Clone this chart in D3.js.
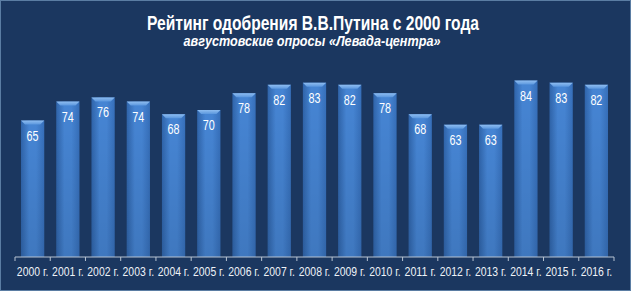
<!DOCTYPE html>
<html>
<head>
<meta charset="utf-8">
<script src="https://cdn.jsdelivr.net/npm/d3@7"></script>
<style>
  html, body { margin: 0; padding: 0; background: #1b3760; }
  svg { display: block; }
</style>
</head>
<body>
<div id="chart"></div>
<script>
// Chart data
const years = ["2000 г.", "2001 г.", "2002 г.", "2003 г.", "2004 г.", "2005 г.", "2006 г.", "2007 г.", "2008 г.",
               "2009 г.", "2010 г.", "2011 г.", "2012 г.", "2013 г.", "2014 г.", "2015 г.", "2016 г."];
const ratings = [65, 74, 76, 74, 68, 70, 78, 82, 83, 82, 78, 68, 63, 63, 84, 83, 82];
const titleText = "Рейтинг одобрения В.В.Путина с 2000 года";
const subtitleText = "августовские опросы «Левада-центра»";

const width = 631;
const height = 291;
const font = "'Liberation Sans', Arial, sans-serif";

const svg = d3.select('#chart').append('svg')
    .attr('width', width)
    .attr('height', height);

// Background and thin border
svg.append('rect')
    .attr('x', 0.5).attr('y', 0.5)
    .attr('width', width - 1).attr('height', height - 1)
    .attr('fill', '#1b3760')
    .attr('stroke', '#5b7da3')
    .attr('stroke-width', 1);

// Gradients for bars
const defs = svg.append('defs');
const barGrad = defs.append('linearGradient')
    .attr('id', 'barGrad')
    .attr('x1', 0).attr('x2', 1).attr('y1', 0).attr('y2', 0);
barGrad.append('stop').attr('offset', '0%').attr('stop-color', '#2f64aa');
barGrad.append('stop').attr('offset', '35%').attr('stop-color', '#4685d4');
barGrad.append('stop').attr('offset', '65%').attr('stop-color', '#4685d4');
barGrad.append('stop').attr('offset', '100%').attr('stop-color', '#366fba');

const shade = defs.append('linearGradient')
    .attr('id', 'shade')
    .attr('x1', 0).attr('x2', 0).attr('y1', 0).attr('y2', 1);
shade.append('stop').attr('offset', '0%').attr('stop-color', '#000').attr('stop-opacity', 0);
shade.append('stop').attr('offset', '100%').attr('stop-color', '#000').attr('stop-opacity', 0.1);

const capGrad = defs.append('linearGradient')
    .attr('id', 'capGrad')
    .attr('x1', 0).attr('x2', 0).attr('y1', 0).attr('y2', 1);
capGrad.append('stop').attr('offset', '0%').attr('stop-color', '#8fbdf0');
capGrad.append('stop').attr('offset', '100%').attr('stop-color', '#5b97de');

// Scales
const x = d3.scaleBand()
    .domain(years)
    .range([15, 614])
    .paddingInner(0.34)
    .paddingOuter(0.17);

const y = d3.scaleLinear()
    .domain([0, 90])
    .range([257, 68]);

// Title (narrow look through textLength)
svg.append('text')
    .attr('x', 313).attr('y', 30)
    .attr('text-anchor', 'middle')
    .attr('fill', '#ffffff')
    .attr('textLength', 332)
    .attr('lengthAdjust', 'spacingAndGlyphs')
    .style('font-family', font)
    .style('font-weight', 'bold')
    .style('font-size', '20px')
    .text(titleText);

svg.append('text')
    .attr('x', 312).attr('y', 46)
    .attr('text-anchor', 'middle')
    .attr('fill', '#ffffff')
    .attr('textLength', 257)
    .attr('lengthAdjust', 'spacingAndGlyphs')
    .style('font-family', font)
    .style('font-weight', 'bold')
    .style('font-style', 'italic')
    .style('font-size', '14px')
    .text(subtitleText);

// Bars
const bar = svg.selectAll('g.bar')
    .data(years.map((d, i) => ({ year: d, value: ratings[i] })))
    .enter().append('g')
    .attr('class', 'bar');

bar.append('rect')
    .attr('x', d => x(d.year))
    .attr('y', d => y(d.value))
    .attr('width', x.bandwidth())
    .attr('height', d => y(0) - y(d.value))
    .attr('fill', 'url(#barGrad)');

bar.append('rect')
    .attr('x', d => x(d.year))
    .attr('y', d => y(d.value))
    .attr('width', x.bandwidth())
    .attr('height', d => y(0) - y(d.value))
    .attr('fill', 'url(#shade)');

// Bevelled top cap
bar.append('path')
    .attr('d', d => {
        const x0 = x(d.year), x1 = x0 + x.bandwidth(), t = y(d.value), b = 4;
        return `M${x0},${t}L${x1},${t}L${x1 - b},${t + b}L${x0 + b},${t + b}Z`;
    })
    .attr('fill', 'url(#capGrad)');

bar.append('text')
    .attr('x', d => x(d.year) + x.bandwidth() / 2)
    .attr('y', d => y(d.value) + 20)
    .attr('text-anchor', 'middle')
    .attr('fill', '#ffffff')
    .attr('textLength', 12)
    .attr('lengthAdjust', 'spacingAndGlyphs')
    .style('font-family', font)
    .style('font-size', '14px')
    .text(d => d.value);

// Axis
const axis = svg.append('g')
    .attr('transform', `translate(0, ${y(0)})`);

axis.append('line')
    .attr('x1', 15).attr('x2', 614)
    .attr('stroke', '#b8c4d2').attr('stroke-width', 1);

const ticks = d3.range(years.length + 1).map(i => 15 + i * (599 / years.length));
axis.selectAll('line.tick')
    .data(ticks)
    .enter().append('line')
    .attr('class', 'tick')
    .attr('x1', d => d).attr('x2', d => d)
    .attr('y1', 0).attr('y2', 4)
    .attr('stroke', '#b8c4d2');

axis.selectAll('text')
    .data(years)
    .enter().append('text')
    .attr('x', d => x(d) + x.bandwidth() / 2)
    .attr('y', 19)
    .attr('text-anchor', 'middle')
    .attr('fill', '#eef2f7')
    .attr('textLength', 31.5)
    .attr('lengthAdjust', 'spacingAndGlyphs')
    .style('font-family', font)
    .style('font-size', '12.5px')
    .text(d => d);
</script>
</body>
</html>
